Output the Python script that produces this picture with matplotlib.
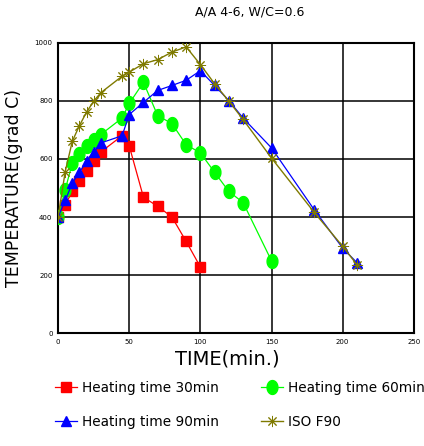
import matplotlib
matplotlib.use("Agg")
import matplotlib.pyplot as plt
import numpy as np

# heating 30 min
t30 = [0, 5, 10, 15, 20, 25, 30, 45, 50, 60, 70, 80, 90, 100]
T30 = [400, 442, 488, 524, 560, 592, 624, 680, 645, 468, 437, 400, 316, 228]

# heating 60 min
t60 = [0, 5, 10, 15, 20, 25, 30, 45, 50, 60, 70, 80, 90, 100, 110, 120, 130, 150]
T60 = [400, 494, 586, 618, 643, 667, 684, 741, 791, 864, 749, 722, 649, 621, 554, 488, 450, 249]

# heating 90 min
t90 = [0, 5, 10, 15, 20, 25, 30, 45, 50, 60, 70, 80, 90, 100, 110, 120, 130, 150, 180, 200, 210]
T90 = [400, 457, 517, 554, 592, 623, 655, 680, 753, 795, 836, 853, 871, 904, 853, 801, 741, 638, 425, 293, 243]

# ISO F90
tiso = [0, 5, 10, 15, 20, 25, 30, 45, 50, 60, 70, 80, 90, 100, 110, 120, 130, 150, 180, 200, 210]
Tiso = [400, 556, 661, 715, 761, 799, 828, 885, 899, 928, 942, 968, 986, 925, 859, 799, 736, 603, 416, 299, 236]

# tall ellipse marker
th = np.linspace(0, 2 * np.pi, 40)
ellipse = np.column_stack([0.78 * np.cos(th), np.sin(th)])

fig = plt.figure(figsize=(4.24, 4.46), dpi=100)
ax = fig.add_axes([0.137, 0.253, 0.839, 0.651])

l30, = ax.plot(t30, T30, color='#ff0000', lw=0.9, marker='s', ms=7, mec='#ff0000',
               label='Heating time 30min', zorder=3)
l60, = ax.plot(t60, T60, color='#00ff00', lw=0.9, marker=ellipse, ms=10, mec='#00ff00',
               label='Heating time 60min', zorder=3)
l90, = ax.plot(t90, T90, color='#0000ff', lw=0.9, marker='^', ms=7.5, mec='#0000ff',
               label='Heating time 90min', zorder=4)
liso, = ax.plot(tiso, Tiso, color='#7f7a00', lw=1.0, marker=(8, 2, 0), ms=8, mew=0.7,
                label='ISO F90', zorder=5)

ax.set_xlim(0, 250)
ax.set_ylim(0, 1000)
ax.set_xticks([0, 50, 100, 150, 200, 250])
ax.set_yticks([0, 200, 400, 600, 800, 1000])
ax.tick_params(labelsize=5, length=0, pad=4)
ax.grid(True, color='black', lw=1.1)
for s in ax.spines.values():
    s.set_linewidth(1.5)

ax.set_xlabel('TIME(min.)', fontsize=14, labelpad=3)
ax.xaxis.set_label_coords(0.475, -0.055)
ax.set_ylabel('TEMPERATURE(grad C)', fontsize=12.5, labelpad=8)
fig.text(0.59, 0.972, 'A/A 4-6, W/C=0.6', fontsize=9, ha='center', va='center')

# column-wise fill: [30, 90] then [60, ISO] gives row order 30/60, 90/ISO
fig.legend([l30, l90, l60, liso],
           [l.get_label() for l in (l30, l90, l60, liso)],
           loc='upper left', bbox_to_anchor=(0.118, 0.158), ncol=2, frameon=False,
           fontsize=9.8, handlelength=1.6, handletextpad=0.35, columnspacing=3.1,
           labelspacing=1.45, borderaxespad=0)

fig.savefig('out.png', dpi=100)
